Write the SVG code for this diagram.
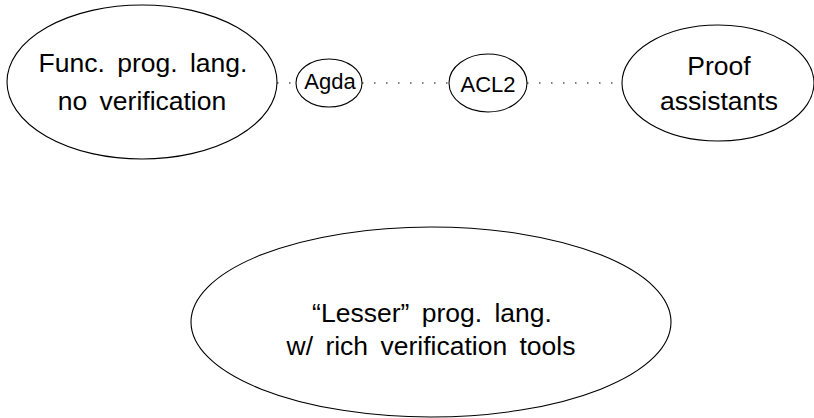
<svg xmlns="http://www.w3.org/2000/svg" width="814" height="418" viewBox="0 0 814 418">
<style>
.node ellipse{fill:#fff;stroke:#000;stroke-width:1.1}
.node text{font-family:"Liberation Sans",Arial,sans-serif;fill:#000;text-anchor:middle}
.big{font-size:26.5px;word-spacing:5px}
.small{font-size:22px}
.edge{stroke:#000;stroke-width:1.1;stroke-dasharray:1.5 10.5;fill:none}
</style>
<rect width="814" height="418" fill="#fff"/>
<g id="connectors">
<line class="edge" x1="277" y1="83" x2="296" y2="83"/>
<line class="edge" x1="362" y1="83" x2="449" y2="83"/>
<line class="edge" x1="527" y1="83" x2="622" y2="83"/>
</g>
<g id="func" class="node">
<ellipse cx="142" cy="82" rx="135" ry="77"/>
<text class="big" x="143" y="72">Func. prog. lang.</text>
<text class="big" x="142" y="110">no verification</text>
</g>
<g id="agda" class="node">
<ellipse cx="329" cy="83" rx="33" ry="24"/>
<text class="small" x="330" y="89">Agda</text>
</g>
<g id="acl2" class="node">
<ellipse cx="488" cy="83" rx="39" ry="29"/>
<text class="small" x="488" y="92">ACL2</text>
</g>
<g id="proof" class="node">
<ellipse cx="718" cy="83" rx="96" ry="58"/>
<text class="big" x="719" y="75">Proof</text>
<text class="big" x="719" y="110">assistants</text>
</g>
<g id="lesser" class="node">
<ellipse cx="431" cy="322" rx="240" ry="95"/>
<text class="big" x="432" y="322">“Lesser” prog. lang.</text>
<text class="big" x="431" y="355">w/ rich verification tools</text>
</g>
</svg>
